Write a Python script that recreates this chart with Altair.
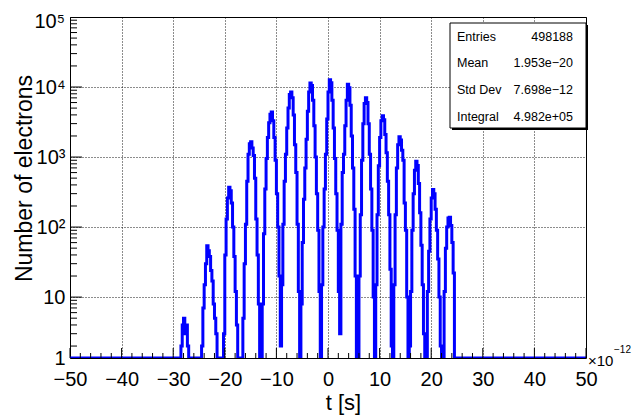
import altair as alt
import pandas as pd

# ---------------- data ----------------
bin_width = 0.25            # bin width in units of 1e-12 s
t_low, t_high = -50.0, 50.0
first_bin = -29.0           # low edge of the first listed bin
# bin contents (0.25 ps bins starting at -29.0)
peak_counts = [
    0, 1, 2, 4, 5, 3, 4, 2, 1, 0, 0, 0, 0, 0, 0, 0, 0, 0,
    2, 7, 15, 30, 54, 46, 38, 24, 17, 8, 5, 3, 1, 0, 0, 0, 1,
    3, 40, 130, 260, 370, 330, 220, 100, 38, 12, 4, 1, 0, 0, 1,
    5, 30, 110, 450, 1100, 1550, 1650, 1350, 1050, 500, 130, 40, 8, 1, 1,
    8, 80, 350, 950, 1900, 3100, 4100, 4400, 3300, 1900, 900, 300, 100, 20, 2,
    15, 110, 450, 1100, 2600, 5000, 7800, 8500, 7000, 4000, 1500, 600, 110, 12, 1,
    8, 60, 250, 700, 1800, 4500, 8500, 11400, 10500, 6500, 2800, 1000, 300, 90, 12, 1,
    15, 100, 350, 1100, 3500, 8500, 12700, 11500, 6500, 2600, 950, 300, 90, 12, 3,
    110, 600, 1100, 2800, 6500, 11000, 9800, 5500, 2000, 700, 180, 20, 1, 1,
    20, 150, 900, 3000, 5800, 7000, 6000, 3000, 1100, 350, 90, 10, 1,
    15, 150, 750, 1900, 3300, 3900, 3400, 2100, 1150, 450, 150, 25, 2, 1,
    15, 150, 700, 1500, 1950, 1750, 1250, 900, 220, 90, 10, 1,
    2, 12, 90, 300, 650, 870, 760, 420, 160, 55, 15, 3, 1, 1,
    12, 45, 130, 260, 345, 300, 180, 90, 35, 10, 2, 1, 1,
    12, 50, 100, 135, 138, 105, 60, 22,
]

stats_names = ["Entries", "Mean", "Std Dev", "Integral"]
stats_values = ["498188", "1.953e\u221220", "7.698e\u221212", "4.982e+05"]

x_tick_values = [-50, -40, -30, -20, -10, 0, 10, 20, 30, 40, 50]
y_min, y_max = 1.35, 1e5
y_tick_values = [1.35, 10, 100, 1000, 10000, 100000]
y_tick_labels = ["1", "10", "10\u00b2", "10\u00b3", "10\u2074", "10\u2075"]
x_exponent = ["\u00d710", "\u221212"]

x_title = "t [s]"
y_title = "Number of electrons"

# ---------------- table ----------------
n_bins = int(round((t_high - t_low) / bin_width))
offset = int(round((first_bin - t_low) / bin_width))
counts = [0] * n_bins
counts[offset:offset + len(peak_counts)] = peak_counts
edges = [t_low + k * bin_width for k in range(n_bins + 1)]
hist = pd.DataFrame({"t": edges, "n": counts + [counts[-1]]})

x_minor = [v for v in range(-48, 50, 2) if v % 10 != 0]
y_major = [10, 100, 1000, 10000]
y_minor = [m * 10 ** k for k in range(0, 5) for m in range(2, 10) if m * 10 ** k >= y_min]

# ---------------- chart ----------------
W, H = 516, 341
FONT = "Liberation Sans"
xscale = alt.Scale(domain=[t_low, t_high], nice=False, zero=False)
yscale = alt.Scale(type="log", domain=[y_min, y_max], nice=False, clamp=True)

# axis shows every label but the top one, which is drawn as a text layer a bit lower
expr = "''"
for v, lab in reversed(list(zip(y_tick_values[:-1], y_tick_labels[:-1]))):
    expr = f"datum.value < {v * 1.5} ? '{lab}' : ({expr})"

hist_chart = alt.Chart(hist).transform_calculate(
    nplot="max(datum.n, 1)"
).mark_line(interpolate="step-after", color="#0000ff", strokeWidth=3, clip=True).encode(
    x=alt.X("t:Q", scale=xscale, axis=alt.Axis(
        values=x_tick_values, format="d", title=x_title, grid=True, ticks=False, domain=False,
        labelFontSize=20, labelPadding=11, labelFont=FONT, labelColor="black",
        titleFont=FONT, titleFontSize=22, titleFontWeight="normal", titleColor="black",
        titleX=273, titleY=51, titleBaseline="alphabetic", titleAlign="center",
        gridColor="black", gridDash=[1, 2], gridWidth=1, gridOpacity=0.9,
        labelFlush=False, labelOverlap=False)),
    y=alt.Y("nplot:Q", scale=yscale, axis=alt.Axis(
        values=y_tick_values, labelExpr=expr, title=y_title, grid=True, ticks=False, domain=False,
        labelFontSize=20, labelPadding=5, labelFont=FONT, labelColor="black",
        labelBaseline="middle", labelFlush=False, labelOverlap=False,
        titleFont=FONT, titleFontSize=23, titleFontWeight="normal", titleColor="black",
        titleX=-46, titleY=161, titleAngle=-90, titleBaseline="middle", titleAlign="center",
        gridColor="black", gridDash=[1, 2], gridWidth=1, gridOpacity=0.9)),
)

top_label = alt.Chart(pd.DataFrame({"v": [y_tick_values[-1]], "s": [y_tick_labels[-1]]})).mark_text(
    align="right", baseline="middle", font=FONT, fontSize=20, color="black", dy=5).encode(
    y=alt.Y("v:Q", scale=yscale, axis=None), x=alt.value(-5), text="s:N")

def xticks(vals, length):
    return alt.Chart(pd.DataFrame({"v": vals})).mark_rule(color="black", strokeWidth=1).encode(
        x=alt.X("v:Q", scale=xscale, axis=None),
        y=alt.value(H), y2=alt.value(H - length))

def yticks(vals, length):
    return alt.Chart(pd.DataFrame({"v": vals})).mark_rule(color="black", strokeWidth=1).encode(
        y=alt.Y("v:Q", scale=yscale, axis=None),
        x=alt.value(0), x2=alt.value(length))

one = pd.DataFrame({"a": [0]})
box_l, box_r, box_t, box_b = 380, 516, 6, 111
shadow = alt.Chart(one).mark_rect(color="black").encode(
    x=alt.value(box_l + 2), x2=alt.value(box_r + 2), y=alt.value(box_t + 2), y2=alt.value(box_b + 2))
box = alt.Chart(one).mark_rect(fill="white", stroke="black", strokeWidth=1).encode(
    x=alt.value(box_l), x2=alt.value(box_r), y=alt.value(box_t), y2=alt.value(box_b))

texts = []
for r, (name, val) in enumerate(zip(stats_names, stats_values)):
    yy = 19.7 + 26.7 * r
    texts.append(alt.Chart(pd.DataFrame({"s": [name]})).mark_text(
        align="left", baseline="middle", font=FONT, fontSize=12.5, color="black").encode(
        text="s:N", x=alt.value(387), y=alt.value(yy)))
    texts.append(alt.Chart(pd.DataFrame({"s": [val]})).mark_text(
        align="right", baseline="middle", font=FONT, fontSize=12.5, color="black").encode(
        text="s:N", x=alt.value(503), y=alt.value(yy)))

exp_base = alt.Chart(pd.DataFrame({"s": [x_exponent[0]]})).mark_text(
    align="left", baseline="middle", font=FONT, fontSize=15, color="black").encode(
    text="s:N", x=alt.value(W + 2), y=alt.value(H + 3))
exp_pow = alt.Chart(pd.DataFrame({"s": [x_exponent[1]]})).mark_text(
    align="left", baseline="middle", font=FONT, fontSize=10, color="black").encode(
    text="s:N", x=alt.value(W + 28), y=alt.value(H - 8))

chart = alt.layer(
    hist_chart, top_label,
    xticks(x_tick_values, 10), xticks(x_minor, 5),
    yticks(y_major, 12), yticks(y_minor, 7),
    shadow, box, *texts, exp_base, exp_pow,
).resolve_axis(x="independent", y="independent").properties(
    width=W, height=H,
    autosize=alt.AutoSizeParams(type="none"),
    padding={"left": 62, "top": 9, "right": 48, "bottom": 57},
    background="white",
).configure_view(stroke="black", strokeWidth=1)

chart.save("out.html", embed_options={"renderer": "svg", "actions": False})
